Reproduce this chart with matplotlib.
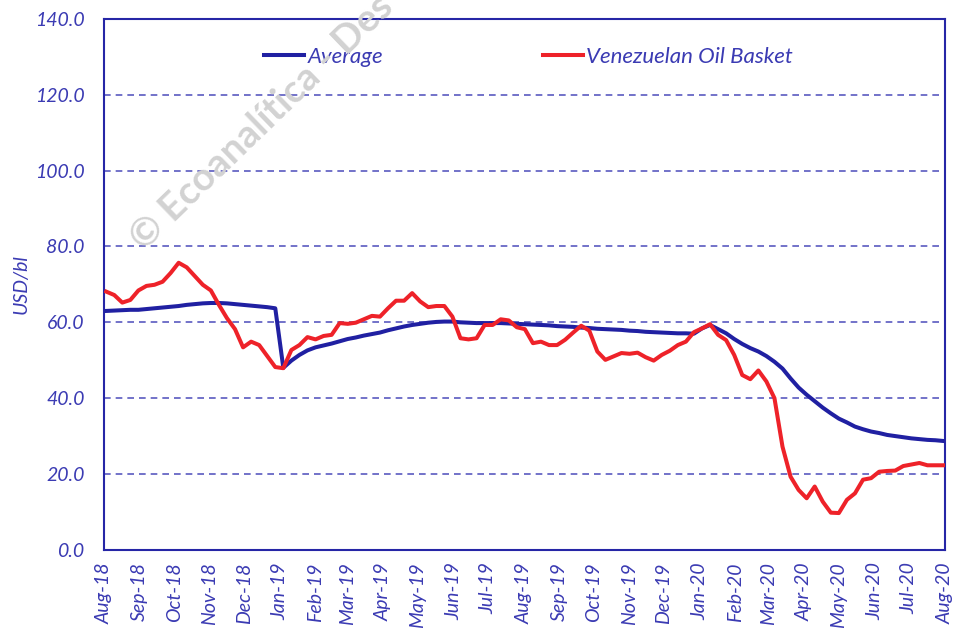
import matplotlib
matplotlib.use("Agg")
import matplotlib.pyplot as plt
import matplotlib.dates as mdates
import pandas as pd

# weekly observations, Aug-2018 .. Jul-2020
dates = pd.date_range("2018-08-03", periods=105, freq="7D")

basket = [
    68.1, 67.2, 65.2, 65.9, 68.4, 69.6, 69.9, 70.7, 73.0, 75.7,
    74.5, 72.2, 69.9, 68.4, 64.6, 61.1, 58.2, 53.4, 54.9, 54.0,
    51.1, 48.2, 47.9, 52.7, 54.0, 56.1, 55.5, 56.4, 56.7, 59.8,
    59.6, 59.9, 60.8, 61.7, 61.5, 63.7, 65.7, 65.7, 67.7, 65.5,
    64.0, 64.3, 64.3, 61.5, 55.8, 55.5, 55.8, 59.3, 59.3, 60.8,
    60.5, 58.7, 58.2, 54.5, 54.9, 54.0, 54.0, 55.4, 57.3, 59.1,
    57.8, 52.3, 50.1, 51.0, 51.9, 51.7, 52.0, 50.8, 49.9, 51.4,
    52.5, 54.0, 54.9, 57.4, 58.4, 59.5, 56.7, 55.3, 51.4, 46.1,
    45.0, 47.3, 44.4, 40.0, 27.2, 19.3, 15.8, 13.6, 16.7, 12.7,
    9.8, 9.7, 13.2, 14.9, 18.5, 18.9, 20.6, 20.8, 20.9, 22.1,
    22.5, 22.9, 22.3, 22.3, 22.3,
]

average = [
    63.0, 63.1, 63.2, 63.3, 63.3, 63.5, 63.7, 63.9, 64.1, 64.3,
    64.6, 64.8, 65.0, 65.1, 65.1, 65.0, 64.8, 64.6, 64.4, 64.2,
    64.0, 63.7, 48.0, 49.9, 51.4, 52.6, 53.4, 53.9, 54.4, 55.0,
    55.6, 56.0, 56.5, 56.9, 57.3, 57.9, 58.4, 58.9, 59.3, 59.6,
    59.9, 60.1, 60.2, 60.2, 60.0, 59.9, 59.8, 59.8, 59.8, 59.8,
    59.7, 59.6, 59.5, 59.4, 59.3, 59.2, 59.0, 58.9, 58.8, 58.6,
    58.5, 58.3, 58.2, 58.1, 58.0, 57.8, 57.7, 57.5, 57.4, 57.3,
    57.2, 57.1, 57.1, 57.0, 58.4, 59.3, 58.2, 57.1, 55.6, 54.3,
    53.2, 52.3, 51.1, 49.6, 47.8, 45.2, 42.8, 40.9, 39.2, 37.5,
    36.0, 34.6, 33.6, 32.5, 31.8, 31.2, 30.8, 30.3, 30.0, 29.7,
    29.4, 29.2, 29.0, 28.9, 28.7,
]

yticks = [0, 20, 40, 60, 80, 100, 120, 140]

INK = "#2626a6"
TXT = "#3b3bb3"
GRID = "#5a5ac0"
BLUE = "#2020a2"
RED = "#ee2229"
FONT = ["Lato", "DejaVu Sans"]

fig = plt.figure(figsize=(9.62, 6.32), dpi=100)
ax = fig.add_axes([0.108, 0.130, 0.874, 0.840])

# watermark, sits behind the plot (runs off the top edge as in the source)
fig.text(0.150, 1 - 252 / 632, "© Ecoanalítica - Des", rotation=44,
         rotation_mode="anchor", ha="left", va="baseline", fontsize=28,
         fontweight="bold", color="#d2d2d2", family=FONT, zorder=0)
ax.patch.set_alpha(0)

ax.plot(dates, average, color=BLUE, lw=2.9, label="Average", zorder=3)
ax.plot(dates, basket, color=RED, lw=2.9, label="Venezuelan Oil Basket", zorder=4)

ax.set_ylim(0, 140)
ax.set_yticks(yticks)
ax.yaxis.set_major_formatter(matplotlib.ticker.FormatStrFormatter("%.1f"))
ax.set_xlim(pd.Timestamp("2018-08-01"), pd.Timestamp("2020-08-01"))
ax.xaxis.set_major_locator(mdates.MonthLocator())
ax.xaxis.set_major_formatter(mdates.DateFormatter("%b-%y"))

ax.grid(axis="y", color=GRID, ls=(0, (4, 3)), lw=1.2, zorder=1)
for s in ax.spines.values():
    s.set_color(INK)
    s.set_linewidth(1.5)
ax.tick_params(axis="y", length=0, pad=14)
ax.tick_params(axis="x", length=0, pad=9)
for lab in ax.get_yticklabels() + ax.get_xticklabels():
    lab.set_fontsize(14)
    lab.set_fontstyle("italic")
    lab.set_color(TXT)
    lab.set_family(FONT)
for lab in ax.get_xticklabels():
    lab.set_rotation(90)
    lab.set_ha("center")
    lab.set_va("top")

ax.set_ylabel("USD/bl", fontsize=14, fontstyle="italic",
              color=TXT, family=FONT, labelpad=4)

leg = ax.legend(loc="center", bbox_to_anchor=(0.505, 0.928), ncol=2,
                frameon=False, handlelength=1.8, handletextpad=0.15,
                columnspacing=7.2,
                prop={"family": FONT, "size": 16, "style": "italic"})
for t in leg.get_texts():
    t.set_color(TXT)

fig.savefig("out.png", dpi=100)
